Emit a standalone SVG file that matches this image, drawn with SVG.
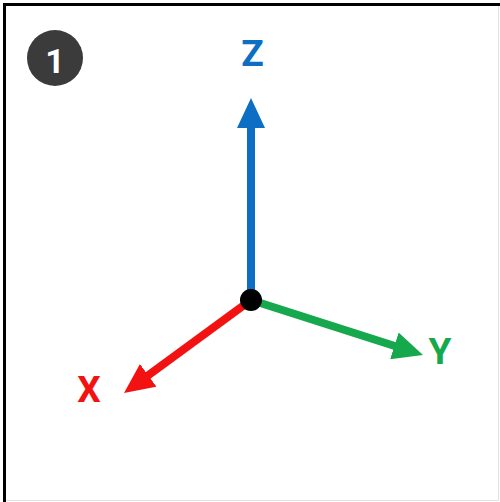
<svg xmlns="http://www.w3.org/2000/svg" width="500" height="502" viewBox="0 0 500 502">
  <style>
    .lbl { font-family: Roboto, "Noto Sans", "DejaVu Sans", sans-serif; font-weight: bold; font-size: 37px; text-anchor: middle; }
    .shaft { stroke-width: 8; fill: none; stroke-linecap: butt; }
  </style>
  <defs>
    <marker id="hz" viewBox="0 0 30 28" refX="2" refY="14" markerWidth="30" markerHeight="28" markerUnits="userSpaceOnUse" orient="auto">
      <path d="M0,0 L30,14 L0,28 z" fill="#0c6fc3"/>
    </marker>
    <marker id="hx" viewBox="0 0 30 28" refX="2" refY="14" markerWidth="30" markerHeight="28" markerUnits="userSpaceOnUse" orient="auto">
      <path d="M0,0 L30,14 L0,28 z" fill="#f21212"/>
    </marker>
    <marker id="hy" viewBox="0 0 30 28" refX="2" refY="14" markerWidth="30" markerHeight="28" markerUnits="userSpaceOnUse" orient="auto">
      <path d="M0,0 L30,14 L0,28 z" fill="#15a84c"/>
    </marker>
  </defs>
  <rect x="0" y="0" width="500" height="502" fill="#ffffff"/>
  <line x1="3" y1="4.5" x2="500" y2="4.5" stroke="#000" stroke-width="3"/>
  <line x1="4.5" y1="3" x2="4.5" y2="502" stroke="#000" stroke-width="3"/>
  <line x1="498.5" y1="6" x2="498.5" y2="501" stroke="#e2e2e2" stroke-width="1"/>
  <line x1="6" y1="500.5" x2="499" y2="500.5" stroke="#e2e2e2" stroke-width="1"/>

  <g id="badge">
    <circle cx="55" cy="58" r="28" fill="#3b3b3b"/>
    <text x="55" y="73" class="lbl" style="font-size:34px" fill="#ffffff">1</text>
  </g>

  <g id="connectors">
    <line class="shaft" x1="251" y1="300" x2="251" y2="126" stroke="#0c6fc3" marker-end="url(#hz)"/>
    <line class="shaft" x1="251" y1="300" x2="146.6" y2="376.5" stroke="#f21212" marker-end="url(#hx)"/>
    <line class="shaft" x1="251" y1="300" x2="396.3" y2="346.5" stroke="#15a84c" marker-end="url(#hy)"/>
  </g>

  <g id="origin">
    <circle cx="251" cy="300" r="11" fill="#000"/>
  </g>
  <g id="label-z"><text x="252.5" y="66" class="lbl" fill="#0c6fc3">Z</text></g>
  <g id="label-x"><text x="89" y="402" class="lbl" fill="#f21212">X</text></g>
  <g id="label-y"><text x="440" y="364" class="lbl" fill="#15a84c">Y</text></g>
</svg>
